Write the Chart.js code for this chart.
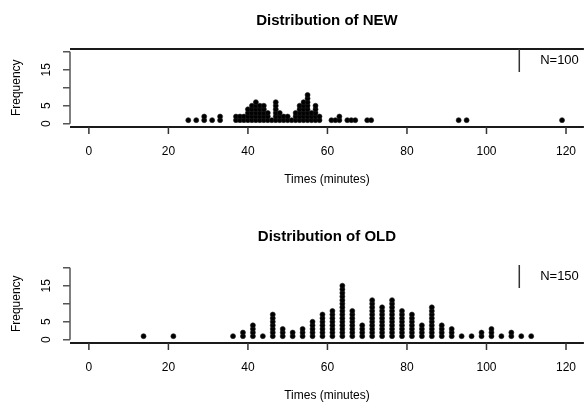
<!DOCTYPE html>
<html>
<head>
<meta charset="utf-8">
<title>Distribution of NEW / OLD</title>
<script src="https://cdn.jsdelivr.net/npm/chart.js@4.4.0/dist/chart.umd.min.js"></script>
<style>
  html, body { margin: 0; padding: 0; background: #fff; }
  #wrap { position: relative; width: 587px; height: 402px; overflow: hidden; }
  canvas { position: absolute; left: 0; }
</style>
</head>
<body>
<div id="wrap">
  <canvas id="newChart" width="587" height="216" style="top:0"></canvas>
  <canvas id="oldChart" width="587" height="186" style="top:216px"></canvas>
</div>
<script>
// --- data (minutes -> number of stacked dots) ---
const newTimes  = [25, 27, 29, 31, 33, 37, 38, 39, 40, 41, 42, 43, 44, 45, 46, 47, 48, 49, 50, 51, 52, 53, 54, 55, 56, 57, 58, 61, 62, 63, 65, 66, 67, 70, 71, 93, 95, 119];
const newCounts = [ 1,  1,  2,  1,  2,  2,  2,  2,  4,  5,  6,  5,  5,  3,  1,  6,  3,  2,  2,  1,  3,  5,  6,  8,  3,  5,  2,  1,  1,  2,  1,  1,  1,  1,  1,  1,  1,  1];

const oldTimes  = [13.75, 21.25, 36.25, 38.75, 41.25, 43.75, 46.25, 48.75, 51.25, 53.75, 56.25, 58.75, 61.25, 63.75, 66.25, 68.75, 71.25, 73.75, 76.25, 78.75, 81.25, 83.75, 86.25, 88.75, 91.25, 93.75, 96.25, 98.75, 101.25, 103.75, 106.25, 108.75, 111.25];
const oldCounts = [    1,     1,     1,     2,     4,     1,     7,     3,     2,     3,     5,     7,     8,    15,     8,     4,    11,     9,    11,     8,     7,     4,     9,     4,     3,     1,     1,     2,      3,      1,      2,      1,      1];

const xTicks = [0, 20, 40, 60, 80, 100, 120];
const yTicks = [0, 5, 10, 15, 20];
const yTickLabels = ["0", "5", "", "15", ""];   // R drops the ones that would overlap
const xTitle = "Times (minutes)";
const yTitle = "Frequency";

const FONT = '"Liberation Sans", Arial, sans-serif';

// one dot per observation, stacked upward
function stack(times, counts){
  const pts = [];
  times.forEach((t, i) => {
    for (let k = 1; k <= counts[i]; k++) pts.push({ x: t, y: k });
  });
  return pts;
}

// R-style axes, titles and the N= box, all placed through the chart's scales
function rAxes(o){
  return {
    id: "rAxes",
    afterDatasetsDraw(chart){
      const { ctx, chartArea: a, scales: { x, y } } = chart;
      ctx.save();

      // frame lines
      ctx.strokeStyle = "#1a1a1a";
      ctx.lineWidth = 2;
      ctx.beginPath();
      ctx.moveTo(a.left, a.bottom); ctx.lineTo(a.right, a.bottom);
      if (o.topLine) { ctx.moveTo(a.left, a.top); ctx.lineTo(a.right, a.top); }
      ctx.stroke();

      // y axis
      ctx.strokeStyle = "#555";
      ctx.lineWidth = 1.5;
      ctx.beginPath();
      ctx.moveTo(a.left, y.getPixelForValue(yTicks[0]));
      ctx.lineTo(a.left, y.getPixelForValue(yTicks[yTicks.length - 1]));
      yTicks.forEach(v => {
        const py = y.getPixelForValue(v);
        ctx.moveTo(a.left, py); ctx.lineTo(a.left - 7, py);
      });
      ctx.stroke();

      ctx.fillStyle = "#000";
      ctx.font = `12px ${FONT}`;
      ctx.textAlign = "center";
      ctx.textBaseline = "middle";
      yTicks.forEach((v, i) => {
        if (!yTickLabels[i]) return;
        ctx.save();
        ctx.translate(47, y.getPixelForValue(v));
        ctx.rotate(-Math.PI / 2);
        ctx.fillText(yTickLabels[i], 0, 0);
        ctx.restore();
      });

      // x ticks + labels
      ctx.strokeStyle = "#333";
      ctx.beginPath();
      xTicks.forEach(v => {
        const px = x.getPixelForValue(v);
        ctx.moveTo(px, a.bottom); ctx.lineTo(px, a.bottom + 7);
      });
      ctx.stroke();
      xTicks.forEach(v => ctx.fillText(String(v), x.getPixelForValue(v), a.bottom + 25));

      // axis titles
      const cx = (a.left + a.right) / 2;
      ctx.fillText(xTitle, cx, a.bottom + 53);
      ctx.save();
      ctx.translate(17, y.getPixelForValue(10));
      ctx.rotate(-Math.PI / 2);
      ctx.fillText(yTitle, 0, 0);
      ctx.restore();

      // main title
      ctx.font = `bold 15px ${FONT}`;
      ctx.fillText(o.title, cx, a.top - 28);

      // N= box (left edge only is inside the picture)
      const bx = x.getPixelForValue(108.25);
      ctx.strokeStyle = "#333";
      ctx.lineWidth = 1.5;
      ctx.beginPath();
      ctx.moveTo(bx, a.top); ctx.lineTo(bx, a.top + 23);
      ctx.stroke();
      ctx.font = `13px ${FONT}`;
      ctx.textAlign = "left";
      ctx.fillText(o.n, x.getPixelForValue(113.5), a.top + 11);

      ctx.restore();
    }
  };
}

function dotChart(id, times, counts, o){
  return new Chart(document.getElementById(id), {
    type: "scatter",
    data: {
      datasets: [{
        data: stack(times, counts),
        backgroundColor: "#000",
        borderColor: "#222",
        borderWidth: 0.6,
        pointRadius: 2.5,
        pointHoverRadius: 2.5
      }]
    },
    options: {
      responsive: false,
      animation: false,
      events: [],
      layout: { padding: { left: 70, right: 0, top: 49, bottom: o.bottomPad } },
      plugins: { legend: { display: false }, tooltip: { enabled: false } },
      scales: {
        x: { type: "linear", min: -4.75, max: 124.5, display: false },
        y: { type: "linear", min: -0.9, max: 20.75, display: false }
      }
    },
    plugins: [rAxes(o)]
  });
}

dotChart("newChart", newTimes, newCounts, { title: "Distribution of NEW", n: "N=100", topLine: true,  bottomPad: 216 - 127 });
dotChart("oldChart", oldTimes, oldCounts, { title: "Distribution of OLD", n: "N=150", topLine: false, bottomPad: 186 - 127 });
</script>
</body>
</html>
